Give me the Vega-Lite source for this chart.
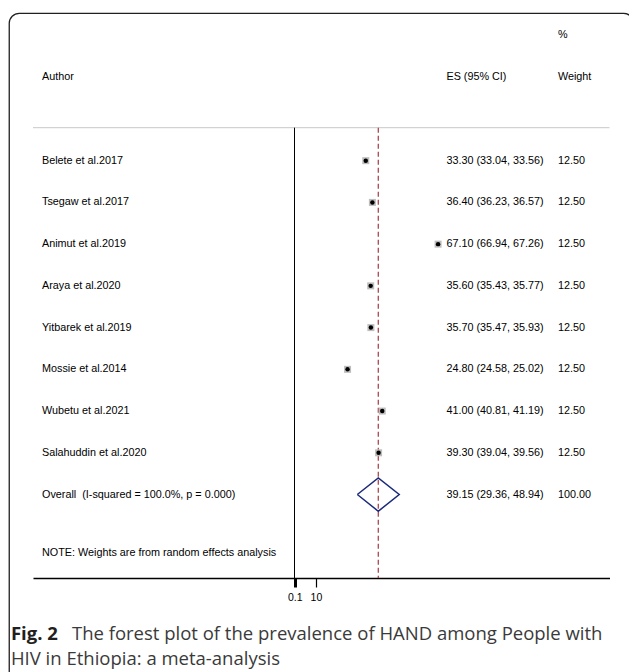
{
  "$schema": "https://vega.github.io/schema/vega-lite/v6.json",
  "width": 576.5,
  "height": 578,
  "autosize": {"type": "none"},
  "padding": {"left": 33, "top": 0, "right": 19.5, "bottom": 94},
  "background": "white",
  "config": {
    "view": {"stroke": null},
    "font": "Liberation Sans, Arial",
    "text": {"font": "Liberation Sans, Arial", "fontSize": 10.8, "color": "#000", "align": "left", "baseline": "middle"}
  },
  "datasets": {
    "rows": [
      {"author": "Belete et al.2017", "type": "study", "order": 1, "es": 33.30, "lower": 33.04, "upper": 33.56, "weight": 12.5, "ci": "33.30 (33.04, 33.56)"},
      {"author": "Tsegaw et al.2017", "type": "study", "order": 2, "es": 36.40, "lower": 36.23, "upper": 36.57, "weight": 12.5, "ci": "36.40 (36.23, 36.57)"},
      {"author": "Animut et al.2019", "type": "study", "order": 3, "es": 67.10, "lower": 66.94, "upper": 67.26, "weight": 12.5, "ci": "67.10 (66.94, 67.26)"},
      {"author": "Araya et al.2020", "type": "study", "order": 4, "es": 35.60, "lower": 35.43, "upper": 35.77, "weight": 12.5, "ci": "35.60 (35.43, 35.77)"},
      {"author": "Yitbarek et al.2019", "type": "study", "order": 5, "es": 35.70, "lower": 35.47, "upper": 35.93, "weight": 12.5, "ci": "35.70 (35.47, 35.93)"},
      {"author": "Mossie et al.2014", "type": "study", "order": 6, "es": 24.80, "lower": 24.58, "upper": 25.02, "weight": 12.5, "ci": "24.80 (24.58, 25.02)"},
      {"author": "Wubetu et al.2021", "type": "study", "order": 7, "es": 41.00, "lower": 40.81, "upper": 41.19, "weight": 12.5, "ci": "41.00 (40.81, 41.19)"},
      {"author": "Salahuddin et al.2020", "type": "study", "order": 8, "es": 39.30, "lower": 39.04, "upper": 39.56, "weight": 12.5, "ci": "39.30 (39.04, 39.56)"},
      {"author": "Overall\u00a0 (I-squared = 100.0%, p = 0.000)", "type": "overall", "order": 9, "es": 39.15, "lower": 29.36, "upper": 48.94, "weight": 100, "ci": "39.15 (29.36, 48.94)"}
    ],
    "diamond": [
      {"x": 29.36, "y": 9, "k": 1},
      {"x": 39.15, "y": 8.6, "k": 2},
      {"x": 48.94, "y": 9, "k": 3},
      {"x": 39.15, "y": 9.4, "k": 4},
      {"x": 29.36, "y": 9, "k": 5}
    ],
    "one": [{}]
  },
  "data": {"name": "rows"},
  "layer": [
    {
      "data": {"name": "one"},
      "mark": {"type": "rect", "fillOpacity": 0, "fill": "white", "stroke": "#231f20", "strokeWidth": 1.3, "cornerRadius": 10},
      "encoding": {
        "x": {
          "datum": -133.3, "type": "quantitative",
          "scale": {"domain": [-122.2, 147.2], "zero": false, "nice": false},
          "axis": {
            "values": [0.1, 10], "format": "~g", "title": null, "grid": false,
            "domainColor": "#000", "domainWidth": 1.5,
            "tickColor": "#000", "tickSize": 9,
            "tickWidth": {"condition": {"test": "datum.value < 1", "value": 3}, "value": 1.2},
            "labelFont": "Liberation Sans, Arial", "labelFontSize": 10.5, "labelColor": "#000",
            "labelPadding": 5, "labelOverlap": false, "labelFlush": false
          }
        },
        "x2": {"datum": 158.5},
        "y": {"datum": -2.53, "type": "quantitative", "scale": {"domain": [-2.85, 11], "reverse": true, "zero": false, "nice": false}, "axis": null},
        "y2": {"datum": 14}
      }
    },
    {
      "data": {"name": "one"},
      "mark": {"type": "rule", "color": "#c8c8c8", "strokeWidth": 1},
      "encoding": {"y": {"datum": 0.21, "type": "quantitative", "axis": null}}
    },
    {
      "data": {"name": "one"},
      "mark": {"type": "rule", "color": "#000", "strokeWidth": 1},
      "encoding": {
        "x": {"datum": 0, "type": "quantitative"},
        "y": {"datum": 0.21, "type": "quantitative", "axis": null},
        "y2": {"datum": 11}
      }
    },
    {
      "transform": [{"filter": "datum.type === 'overall'"}],
      "mark": {"type": "rule", "color": "#a83a3e", "strokeWidth": 1.2, "strokeDash": [5, 3]},
      "encoding": {
        "x": {"field": "es", "type": "quantitative"},
        "y": {"datum": 0.21, "type": "quantitative", "axis": null},
        "y2": {"datum": 11}
      }
    },
    {
      "transform": [{"filter": "datum.type === 'study'"}],
      "mark": {"type": "point", "shape": "square", "filled": true, "color": "#bdbdbd", "opacity": 1, "size": 49},
      "encoding": {
        "x": {"field": "es", "type": "quantitative"},
        "y": {"field": "order", "type": "quantitative", "axis": null}
      }
    },
    {
      "transform": [{"filter": "datum.type === 'study'"}],
      "mark": {"type": "rule", "color": "#000", "strokeWidth": 1},
      "encoding": {
        "x": {"field": "lower", "type": "quantitative"},
        "x2": {"field": "upper"},
        "y": {"field": "order", "type": "quantitative", "axis": null}
      }
    },
    {
      "transform": [{"filter": "datum.type === 'study'"}],
      "mark": {"type": "point", "shape": "circle", "filled": true, "color": "#000", "opacity": 1, "size": 20},
      "encoding": {
        "x": {"field": "es", "type": "quantitative"},
        "y": {"field": "order", "type": "quantitative", "axis": null}
      }
    },
    {
      "data": {"name": "diamond"},
      "mark": {"type": "line", "color": "#1b2a7a", "strokeWidth": 1.5},
      "encoding": {
        "x": {"field": "x", "type": "quantitative"},
        "y": {"field": "y", "type": "quantitative", "axis": null},
        "order": {"field": "k"}
      }
    },
    {
      "mark": {"type": "text"},
      "encoding": {
        "x": {"datum": -118.0, "type": "quantitative"},
        "y": {"field": "order", "type": "quantitative", "axis": null},
        "text": {"field": "author"}
      }
    },
    {
      "mark": {"type": "text"},
      "encoding": {
        "x": {"datum": 71.0, "type": "quantitative"},
        "y": {"field": "order", "type": "quantitative", "axis": null},
        "text": {"field": "ci"}
      }
    },
    {
      "mark": {"type": "text"},
      "encoding": {
        "x": {"datum": 123.1, "type": "quantitative"},
        "y": {"field": "order", "type": "quantitative", "axis": null},
        "text": {"field": "weight", "format": ".2f"}
      }
    },
    {
      "data": {"name": "one"},
      "mark": {"type": "text", "text": "%"},
      "encoding": {
        "x": {"datum": 123.1, "type": "quantitative"},
        "y": {"datum": -2, "type": "quantitative", "axis": null}
      }
    },
    {
      "data": {"name": "one"},
      "mark": {"type": "text", "text": "Weight"},
      "encoding": {
        "x": {"datum": 123.1, "type": "quantitative"},
        "y": {"datum": -1, "type": "quantitative", "axis": null}
      }
    },
    {
      "data": {"name": "one"},
      "mark": {"type": "text", "text": "ES (95% CI)"},
      "encoding": {
        "x": {"datum": 71.0, "type": "quantitative"},
        "y": {"datum": -1, "type": "quantitative", "axis": null}
      }
    },
    {
      "data": {"name": "one"},
      "mark": {"type": "text", "text": "Author"},
      "encoding": {
        "x": {"datum": -118.0, "type": "quantitative"},
        "y": {"datum": -1, "type": "quantitative", "axis": null}
      }
    },
    {
      "data": {"name": "one"},
      "mark": {"type": "text", "text": "NOTE: Weights are from random effects analysis"},
      "encoding": {
        "x": {"datum": -118.0, "type": "quantitative"},
        "y": {"datum": 10.4, "type": "quantitative", "axis": null}
      }
    },
    {
      "data": {"name": "one"},
      "mark": {"type": "text", "text": "Fig. 2", "font": "Open Sans", "fontSize": 18.5, "fontWeight": "bold", "color": "#231f20"},
      "encoding": {
        "x": {"datum": -132.5, "type": "quantitative"},
        "y": {"datum": 12.35, "type": "quantitative", "axis": null}
      }
    },
    {
      "data": {"name": "one"},
      "mark": {"type": "text", "text": "The forest plot of the prevalence of HAND among People with", "font": "Open Sans", "fontSize": 18.5, "color": "#3a3a3a"},
      "encoding": {
        "x": {"datum": -104.0, "type": "quantitative"},
        "y": {"datum": 12.35, "type": "quantitative", "axis": null}
      }
    },
    {
      "data": {"name": "one"},
      "mark": {"type": "text", "text": "HIV in Ethiopia: a meta-analysis", "font": "Open Sans", "fontSize": 18.5, "color": "#3a3a3a"},
      "encoding": {
        "x": {"datum": -132.5, "type": "quantitative"},
        "y": {"datum": 12.95, "type": "quantitative", "axis": null}
      }
    }
  ]
}
